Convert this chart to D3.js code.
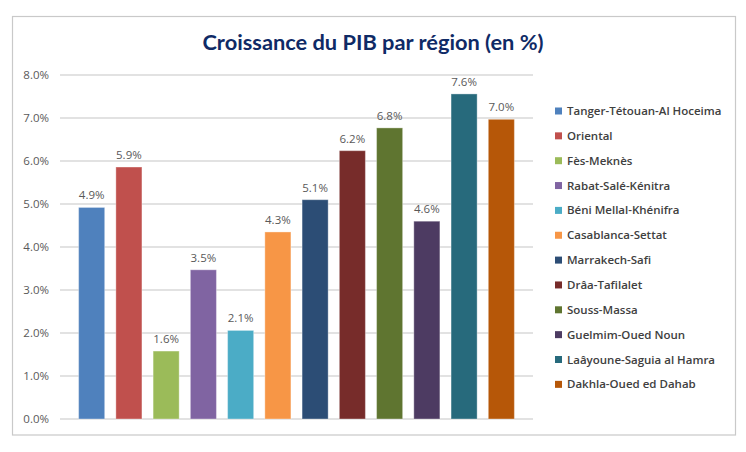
<!DOCTYPE html>
<html>
<head>
<meta charset="utf-8">
<script src="https://cdn.jsdelivr.net/npm/d3@7"></script>
<style>
  body { margin: 0; background: #fff; }
  text { font-family: "Open Sans", "Noto Sans", sans-serif; }
</style>
</head>
<body>
<div id="chart"></div>
<script>
// regions, growth values (%) and colours
var regions = ["Tanger-Tétouan-Al Hoceima", "Oriental", "Fès-Meknès", "Rabat-Salé-Kénitra",
  "Béni Mellal-Khénifra", "Casablanca-Settat", "Marrakech-Safi", "Drâa-Tafilalet",
  "Souss-Massa", "Guelmim-Oued Noun", "Laâyoune-Saguia al Hamra", "Dakhla-Oued ed Dahab"];
var growth = [4.92, 5.86, 1.58, 3.47, 2.06, 4.35, 5.10, 6.24, 6.77, 4.60, 7.56, 6.97];
var colors = ["#4F81BD", "#C0504D", "#9BBB59", "#8064A2", "#4BACC6", "#F79646",
  "#2C4D75", "#772C2A", "#5F7530", "#4D3B62", "#276A7C", "#B65708"];
var yTicks = [0, 1, 2, 3, 4, 5, 6, 7, 8];

var W = 746, H = 452;
var margin = {top: 75, left: 60, right: 213, bottom: 33};
var plotW = W - margin.left - margin.right,
    plotH = H - margin.top - margin.bottom;

var svg = d3.select("#chart").append("svg")
  .attr("width", W)
  .attr("height", H);

// outer frame
svg.append("rect")
  .attr("x", 12.5).attr("y", 16.5)
  .attr("width", 723).attr("height", 418.5)
  .attr("fill", "#fff")
  .attr("stroke", "#C9C9C9")
  .attr("stroke-width", 1.2);

// title
svg.append("text")
  .attr("x", 373).attr("y", 50)
  .attr("text-anchor", "middle")
  .attr("fill", "#0F2A66")
  .style("font-family", "Lato, 'Open Sans', sans-serif")
  .style("font-weight", "bold")
  .style("font-size", "21.8px")
  .text("Croissance du PIB par région (en %)");

var g = svg.append("g")
  .attr("transform", "translate(" + margin.left + "," + margin.top + ")");

var x = d3.scaleBand()
  .domain(regions)
  .range([0, plotW])
  .paddingInner(0.3)
  .paddingOuter(0.5);

var y = d3.scaleLinear()
  .domain([0, 8])
  .range([plotH, 0]);

// gridlines
g.append("g")
  .selectAll("line")
  .data(yTicks)
  .join("line")
  .attr("x1", 0).attr("x2", plotW)
  .attr("y1", d => y(d)).attr("y2", d => y(d))
  .attr("stroke", "#D9D9D9")
  .attr("stroke-width", 1.3);

// y axis labels
var yAxis = g.append("g")
  .call(d3.axisLeft(y).tickValues(yTicks).tickSize(0).tickPadding(11)
    .tickFormat(d => d3.format(".1f")(d) + "%"));
yAxis.select(".domain").remove();
yAxis.selectAll("text")
  .attr("fill", "#595959")
  .style("font-size", "11.5px")
  .style("font-family", "'Open Sans', sans-serif");

// bars
g.selectAll("rect.bar")
  .data(regions)
  .join("rect")
  .attr("class", "bar")
  .attr("x", d => x(d))
  .attr("y", (d, i) => y(growth[i]))
  .attr("width", x.bandwidth())
  .attr("height", (d, i) => plotH - y(growth[i]))
  .attr("fill", (d, i) => colors[i])
  .attr("stroke", "#fff")
  .attr("stroke-opacity", 0.35)
  .attr("stroke-width", 1);

// value labels
g.selectAll("text.val")
  .data(regions)
  .join("text")
  .attr("class", "val")
  .attr("x", d => x(d) + x.bandwidth() / 2)
  .attr("y", (d, i) => y(growth[i]) - 8)
  .attr("text-anchor", "middle")
  .attr("fill", "#595959")
  .style("font-size", "11.5px")
  .text((d, i) => d3.format(".1f")(growth[i]) + "%");

// legend
var leg = svg.append("g")
  .attr("transform", "translate(555,111)");
var item = leg.selectAll("g")
  .data(regions)
  .join("g")
  .attr("transform", (d, i) => "translate(0," + (i * 24.85) + ")");
item.append("rect")
  .attr("x", 0).attr("y", -3.5)
  .attr("width", 7).attr("height", 7)
  .attr("fill", (d, i) => colors[i]);
item.append("text")
  .attr("x", 12).attr("y", 0)
  .attr("dy", "0.35em")
  .attr("fill", "#404040")
  .style("font-size", "11.5px")
  .style("font-weight", "600")
  .text(d => d);
</script>
</body>
</html>
